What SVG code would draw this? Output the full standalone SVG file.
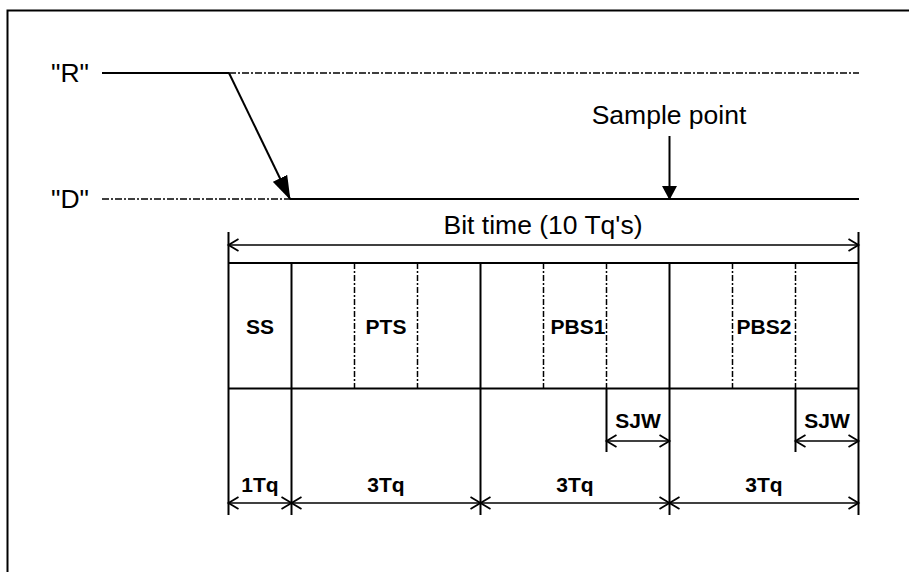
<svg xmlns="http://www.w3.org/2000/svg" width="909" height="572" viewBox="0 0 909 572">
<style>
.ln{stroke:#000;stroke-width:2;fill:none}
.dd{stroke:#000;stroke-width:1.5;fill:none;stroke-dasharray:7 2 2 2}
.dv{stroke:#000;stroke-width:1.5;fill:none;stroke-dasharray:6 2 2 2}
.dim{stroke:#000;stroke-width:1.5;fill:none;marker-start:url(#open);marker-end:url(#open)}
.big{font-family:"Liberation Sans",Arial,sans-serif;font-size:26.5px;fill:#000}
.lab{font-family:"Liberation Sans",Arial,sans-serif;font-size:21px;font-weight:bold;fill:#000;text-anchor:middle}
</style>
<defs>
<marker id="open" markerUnits="userSpaceOnUse" viewBox="0 0 12 14" refX="11" refY="7" markerWidth="12" markerHeight="14" orient="auto-start-reverse" overflow="visible">
<path d="M1,1 L11,7 L1,13" fill="none" stroke="#000" stroke-width="1.8"/>
</marker>
<marker id="fillA" markerUnits="userSpaceOnUse" viewBox="0 0 24 16" refX="23" refY="8" markerWidth="24" markerHeight="16" orient="auto">
<path d="M0,0 L24,8 L0,16 z" fill="#000"/>
</marker>
<marker id="fillB" markerUnits="userSpaceOnUse" viewBox="0 0 14 15" refX="13" refY="7.5" markerWidth="14" markerHeight="15" orient="auto">
<path d="M0,0 L14,7.5 L0,15 z" fill="#000"/>
</marker>
</defs>
<rect x="0" y="0" width="909" height="572" fill="#fff"/>
<path class="ln" d="M7.5,580 V10.5 H909"/>

<g id="signal-R">
<text class="big" x="51" y="82">"R"</text>
<line class="ln" x1="102" y1="73" x2="229" y2="73"/>
<line class="dd" x1="229" y1="73" x2="859" y2="73"/>
</g>
<g id="signal-D">
<text class="big" x="51" y="208">"D"</text>
<line class="dd" x1="102" y1="199" x2="290" y2="199"/>
<line class="ln" x1="290" y1="199" x2="859" y2="199"/>
</g>
<g id="sample-point">
<text class="big" x="669" y="124" text-anchor="middle">Sample point</text>
</g>
<g id="bit-time">
<text class="big" x="543" y="234" text-anchor="middle">Bit time (10 Tq's)</text>
</g>

<g id="bit-box">
<line class="ln" x1="228.5" y1="263" x2="858.5" y2="263"/>
<line class="ln" x1="228.5" y1="388.5" x2="858.5" y2="388.5"/>
<line class="dv" x1="354.5" y1="263" x2="354.5" y2="388"/>
<line class="dv" x1="417.5" y1="263" x2="417.5" y2="388"/>
<line class="dv" x1="543.5" y1="263" x2="543.5" y2="388"/>
<line class="dv" x1="606.5" y1="263" x2="606.5" y2="388"/>
<line class="dv" x1="732.5" y1="263" x2="732.5" y2="388"/>
<line class="dv" x1="795.5" y1="263" x2="795.5" y2="388"/>
</g>
<g id="seg-SS"><text class="lab" x="260" y="334">SS</text></g>
<g id="seg-PTS"><text class="lab" x="386" y="334">PTS</text></g>
<g id="seg-PBS1"><text class="lab" x="578" y="334">PBS1</text></g>
<g id="seg-PBS2"><text class="lab" x="764" y="334">PBS2</text></g>

<g id="sjw-1"><text class="lab" x="638" y="428">SJW</text></g>
<g id="sjw-2"><text class="lab" x="827" y="428">SJW</text></g>
<g id="dim-1Tq"><text class="lab" x="260" y="492">1Tq</text></g>
<g id="dim-3Tq-a"><text class="lab" x="386" y="492">3Tq</text></g>
<g id="dim-3Tq-b"><text class="lab" x="575" y="492">3Tq</text></g>
<g id="dim-3Tq-c"><text class="lab" x="764" y="492">3Tq</text></g>

<g id="connectors">
<line class="ln" x1="229" y1="73" x2="290" y2="199" marker-end="url(#fillA)" stroke-width="1.8"/>
<line class="ln" x1="669.5" y1="136" x2="669.5" y2="199" marker-end="url(#fillB)" stroke-width="1.8"/>
<line class="ln" x1="228.5" y1="232" x2="228.5" y2="515"/>
<line class="ln" x1="858.5" y1="232" x2="858.5" y2="515"/>
<line class="ln" x1="291.5" y1="263" x2="291.5" y2="515"/>
<line class="ln" x1="480.5" y1="263" x2="480.5" y2="515"/>
<line class="ln" x1="669.5" y1="263" x2="669.5" y2="515"/>
<line class="ln" x1="606.5" y1="388" x2="606.5" y2="452"/>
<line class="ln" x1="795.5" y1="388" x2="795.5" y2="452"/>
<line class="dim" x1="228.5" y1="245" x2="858.5" y2="245"/>
<line class="dim" x1="606.5" y1="441" x2="669.5" y2="441"/>
<line class="dim" x1="795.5" y1="441" x2="858.5" y2="441"/>
<line class="dim" x1="228.5" y1="503" x2="291.5" y2="503"/>
<line class="dim" x1="291.5" y1="503" x2="480.5" y2="503"/>
<line class="dim" x1="480.5" y1="503" x2="669.5" y2="503"/>
<line class="dim" x1="669.5" y1="503" x2="858.5" y2="503"/>
</g>
</svg>
